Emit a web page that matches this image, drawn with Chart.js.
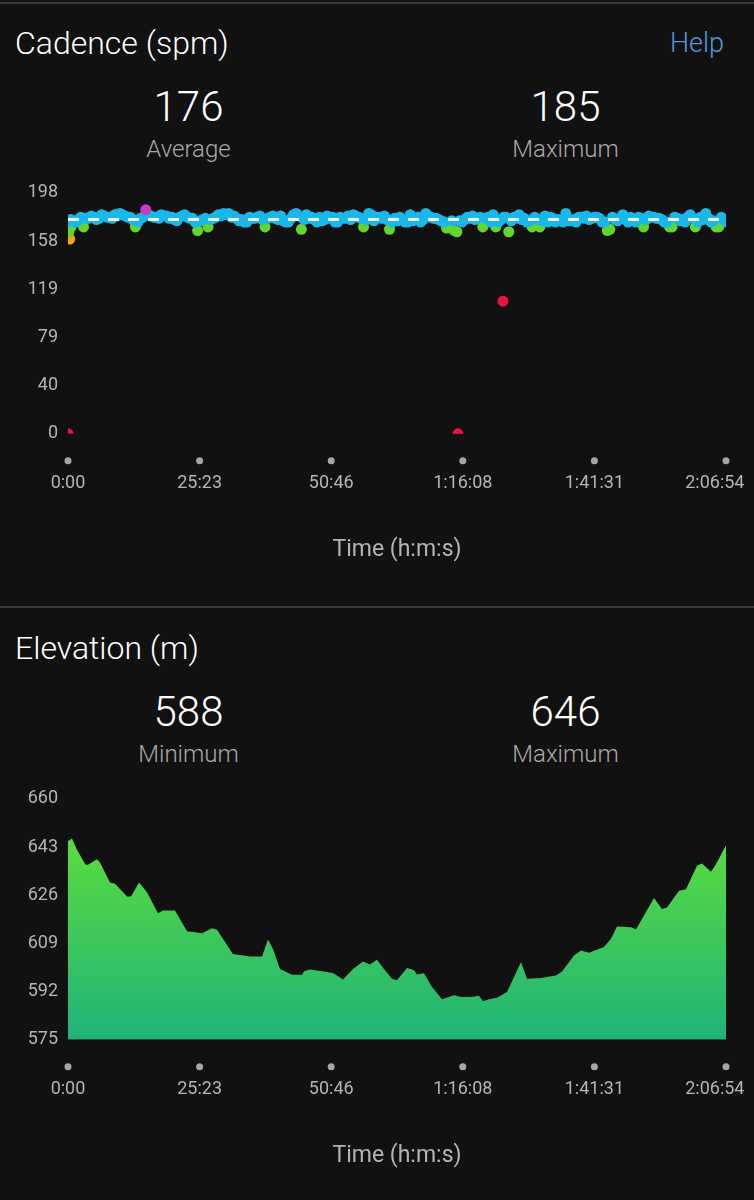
<!DOCTYPE html>
<html>
<head>
<meta charset="utf-8">
<script src="https://cdn.jsdelivr.net/npm/chart.js@4/dist/chart.umd.min.js"></script>
<style>
  body { margin: 0; background: #111111; width: 754px; height: 1200px; position: relative; overflow: hidden; font-family: "Roboto Light", Roboto, "Noto Sans", sans-serif; }
  .rule { position: absolute; left: 0; width: 754px; height: 2px; background: #3a3a3a; }
  .title { position: absolute; left: 15px; font-size: 32px; line-height: 1; font-weight: 300; color: #ffffff; }
  .help { position: absolute; right: 30px; font-size: 27px; line-height: 1; font-weight: 300; color: #4f97db; }
  .num { position: absolute; width: 377px; text-align: center; font-size: 42px; line-height: 1; font-weight: 300; color: #ffffff; }
  .lbl { position: absolute; width: 377px; text-align: center; font-size: 24px; line-height: 1; font-weight: 300; color: #a8a8a8; }
  canvas { position: absolute; left: 0; }
</style>
</head>
<body>
<div class="rule" style="top:2px"></div>
<div class="title" style="top:27px">Cadence (spm)</div>
<div class="help" style="top:30px">Help</div>
<div class="num" style="left:0;top:86px">176</div>
<div class="lbl" style="left:0;top:137px">Average</div>
<div class="num" style="left:377px;top:86px">185</div>
<div class="lbl" style="left:377px;top:137px">Maximum</div>
<canvas id="cadence-chart" width="754" height="420" style="top:172px"></canvas>

<div class="rule" style="top:606px"></div>
<div class="title" style="top:632px">Elevation (m)</div>
<div class="num" style="left:0;top:691px">588</div>
<div class="lbl" style="left:0;top:742px">Minimum</div>
<div class="num" style="left:377px;top:691px">646</div>
<div class="lbl" style="left:377px;top:742px">Maximum</div>
<canvas id="elevation-chart" width="754" height="420" style="top:778px"></canvas>

<script>
// x axis (seconds)
var timeTicks = [0, 1522.8, 3045.6, 4568.4, 6091.2, 7614];
var timeLabels = ['0:00', '25:23', '50:46', '1:16:08', '1:41:31', '2:06:54'];

// cadence, one sample a minute on the minute
var cadStep = 60;
var cadence = [
    174, 175, 176, 170, 177, 178, 177, 179, 178, 180, 181, 179, 178, 170, 177, 184,
    179, 178, 180, 179, 178, 175, 179, 178, 177, 167, 176, 170, 177, 180, 181, 181,
    179, 175, 174, 178, 177, 179, 170, 178, 177, 179, 174, 177, 181, 168, 180, 178,
    174, 175, 179, 178, 174, 177, 179, 180, 178, 170, 181, 175, 178, 179, 168, 177,
    178, 174, 180, 177, 174, 181, 178, 177, 175, 169, 175, 166, 174, 178, 179, 177,
    170, 178, 180, 174, 178, 166, 178, 180, 177, 175, 178, 170, 179, 178, 174, 175,
    181, 175, 174, 178, 179, 177, 178, 174, 167, 178, 175, 180, 174, 175, 178, 170,
    179, 178, 177, 174, 170, 178, 175, 174, 180, 170, 178, 181, 174, 170, 178, 174
];
// and the samples on the half minute
var cadenceHalf = [
    176, 174, 178, 177, 179, 176, 180, 178, 177, 179, 180, 178, 176, 174, 178, 180,
    178, 177, 179, 177, 176, 178, 180, 177, 174, 175, 177, 176, 178, 179, 180, 178,
    177, 176, 174, 177, 178, 176, 177, 179, 176, 175, 174, 180, 179, 176, 177, 176,
    178, 176, 177, 174, 178, 177, 176, 179, 177, 176, 180, 178, 177, 176, 174, 175,
    176, 174, 175, 178, 176, 179, 177, 176, 174, 170, 167, 175, 176, 177, 176, 178,
    177, 174, 170, 176, 178, 175, 177, 176, 174, 170, 176, 175, 174, 177, 176, 174,
    175, 176, 178, 177, 176, 178, 177, 174, 168, 176, 177, 176, 178, 174, 177, 176,
    178, 177, 176, 174, 170, 177, 176, 178, 177, 174, 176, 177, 175, 170, 176
];
// odd samples (start and drop-outs)
var extraTimes = [0, 10, 20, 35, 4513, 5033];
var extraValues = [0, 166, 160, 170, 0, 109];
var cadAverage = 176;
var cadTicks = [0, 39.6, 79.2, 118.8, 158.4, 198];
var cadTickLabels = ['0', '40', '79', '119', '158', '198'];

// elevation
var elevTimes = [0, 46, 104, 197, 220, 336, 370, 486, 544, 683, 729, 822, 914, 1041, 1099, 1238,
    1377, 1551, 1666, 1724, 1909, 2106, 2245, 2314, 2372, 2453, 2592, 2708, 2731, 2800, 2939, 3066,
    3182, 3298, 3413, 3494, 3575, 3656, 3749, 3807, 3923, 4004, 4038, 4119, 4212, 4328, 4466, 4547,
    4663, 4756, 4802, 4871, 4964, 5080, 5242, 5311, 5473, 5647, 5716, 5855, 5936, 6028, 6202, 6283,
    6353, 6515, 6572, 6665, 6781, 6873, 6931, 7070, 7151, 7278, 7336, 7440, 7498, 7614];
var elevValues = [645, 646, 642, 637, 636.6, 638.7, 637.5, 630.5, 630, 625.5, 625.5, 630.5, 627, 619.6, 620.6, 620.6,
    613.3, 612.6, 614.3, 613.8, 605.3, 604.4, 604.4, 610.4, 607, 600, 597.9, 597.9, 599.2, 599.8, 599.2, 598.6,
    596.3, 600, 602.6, 601.6, 603.2, 600, 596.5, 596, 600.3, 599.5, 598, 598.5, 593.6, 589.3, 590.7, 590.1,
    590.1, 590.5, 588.6, 589.3, 589.8, 591.9, 602.4, 596.5, 596.8, 597.7, 599.1, 604.7, 606.5, 605.7, 607.7, 610.6,
    615, 614.7, 613.9, 618.8, 625, 621.1, 621.7, 627.6, 628.1, 636.4, 637.2, 634.3, 636.9, 643.6];
var elevTicks = [575, 592, 609, 626, 643, 660];

var tickColor = '#b4b4b4';

// grey dots under the x axis instead of tick lines
var tickDots = {
    id: 'tickDots',
    afterDraw: function (chart) {
        var ctx = chart.ctx;
        var xs = chart.scales.x;
        ctx.save();
        ctx.fillStyle = '#a6a6a6';
        xs.ticks.forEach(function (t) {
            ctx.beginPath();
            ctx.arc(xs.getPixelForValue(t.value), chart.chartArea.bottom + 27, 3.5, 0, Math.PI * 2);
            ctx.fill();
        });
        ctx.restore();
    }
};

function xAxis() {
    return {
        type: 'linear',
        min: 0,
        max: 7614,
        afterBuildTicks: function (scale) {
            scale.ticks = timeTicks.map(function (v) { return { value: v }; });
        },
        afterFit: function (scale) {
            scale.paddingLeft = 0;
            scale.paddingRight = 0;
        },
        grid: { display: false, drawTicks: false },
        border: { display: false },
        ticks: {
            color: tickColor,
            font: { family: 'Roboto', size: 18 },
            padding: 39,
            maxRotation: 0,
            autoSkip: false,
            callback: function (v, i) {
                // last label is pulled in from the edge
                return i == timeLabels.length - 1 ? timeLabels[i] + '\u00a0\u00a0\u00a0\u00a0\u00a0' : timeLabels[i];
            }
        },
        title: {
            display: true,
            text: 'Time (h:m:s)',
            color: tickColor,
            font: { family: 'Roboto', size: 23 },
            padding: { top: 3, bottom: 0 }
        }
    };
}

function yAxis(min, max, ticks, labels) {
    return {
        min: min,
        max: max,
        afterBuildTicks: function (scale) {
            scale.ticks = ticks.map(function (v) { return { value: v }; });
        },
        afterFit: function (scale) {
            scale.width = 68;
        },
        grid: { display: false, drawTicks: false },
        border: { display: false },
        ticks: {
            color: tickColor,
            font: { family: 'Roboto', size: 18 },
            padding: 10,
            callback: function (v, i) { return labels[i]; }
        }
    };
}

// 케이던스 구간별 색
function zoneOf(v) {
    if (v < 153) return 'red';
    if (v < 164) return 'orange';
    if (v < 174) return 'green';
    if (v < 184) return 'blue';
    return 'purple';
}
var zoneColors = { red: '#ee1144', orange: '#f5a21b', green: '#62d62e', blue: '#19b8ea', purple: '#c83bc8' };
var zoneOrder = { red: 1, purple: 2, blue: 3, green: 4, orange: 5 };

var allPoints = [];
for (var i = 0; i < cadence.length; i++) {
    allPoints.push({ x: i * cadStep, y: cadence[i] });
}
for (var h = 0; h < cadenceHalf.length; h++) {
    allPoints.push({ x: h * cadStep + cadStep / 2, y: cadenceHalf[h] });
}
for (var j = 0; j < extraTimes.length; j++) {
    allPoints.push({ x: extraTimes[j], y: extraValues[j] });
}

var cadDatasets = Object.keys(zoneColors).map(function (z) {
    return {
        data: allPoints.filter(function (p) { return zoneOf(p.y) == z; }),
        backgroundColor: zoneColors[z],
        pointRadius: 5.5,
        pointBorderWidth: 0,
        clip: 0,
        order: zoneOrder[z]
    };
});
cadDatasets.push({
    type: 'line',
    data: [{ x: 0, y: cadAverage }, { x: 7614, y: cadAverage }],
    borderColor: '#eef6f9',
    borderWidth: 3,
    borderDash: [11, 9],
    pointRadius: 0,
    clip: 0,
    order: 0
});

new Chart(document.getElementById('cadence-chart'), {
    type: 'scatter',
    data: { datasets: cadDatasets },
    options: {
        responsive: false,
        animation: false,
        devicePixelRatio: 1,
        layout: { padding: { top: 20, left: 0, right: 28, bottom: 28 } },
        plugins: { legend: { display: false }, tooltip: { enabled: false } },
        scales: {
            x: xAxis(),
            y: yAxis(0, 198, cadTicks, cadTickLabels)
        }
    },
    plugins: [tickDots]
});

var elevPoints = elevTimes.map(function (t, k) { return { x: t, y: elevValues[k] }; });

new Chart(document.getElementById('elevation-chart'), {
    type: 'line',
    data: {
        datasets: [{
            data: elevPoints,
            fill: 'start',
            backgroundColor: function (context) {
                var area = context.chart.chartArea;
                if (!area) return '#3fcc55';
                var g = context.chart.ctx.createLinearGradient(0, area.top, 0, area.bottom);
                g.addColorStop(0, '#66e432');
                g.addColorStop(1, '#1fb37a');
                return g;
            },
            borderWidth: 0,
            pointRadius: 0,
            tension: 0,
            clip: 0
        }]
    },
    options: {
        responsive: false,
        animation: false,
        devicePixelRatio: 1,
        layout: { padding: { top: 20, left: 0, right: 28, bottom: 28 } },
        plugins: { legend: { display: false }, tooltip: { enabled: false } },
        scales: {
            x: xAxis(),
            y: yAxis(575, 660, elevTicks, elevTicks.map(String))
        }
    },
    plugins: [tickDots]
});
</script>
</body>
</html>
